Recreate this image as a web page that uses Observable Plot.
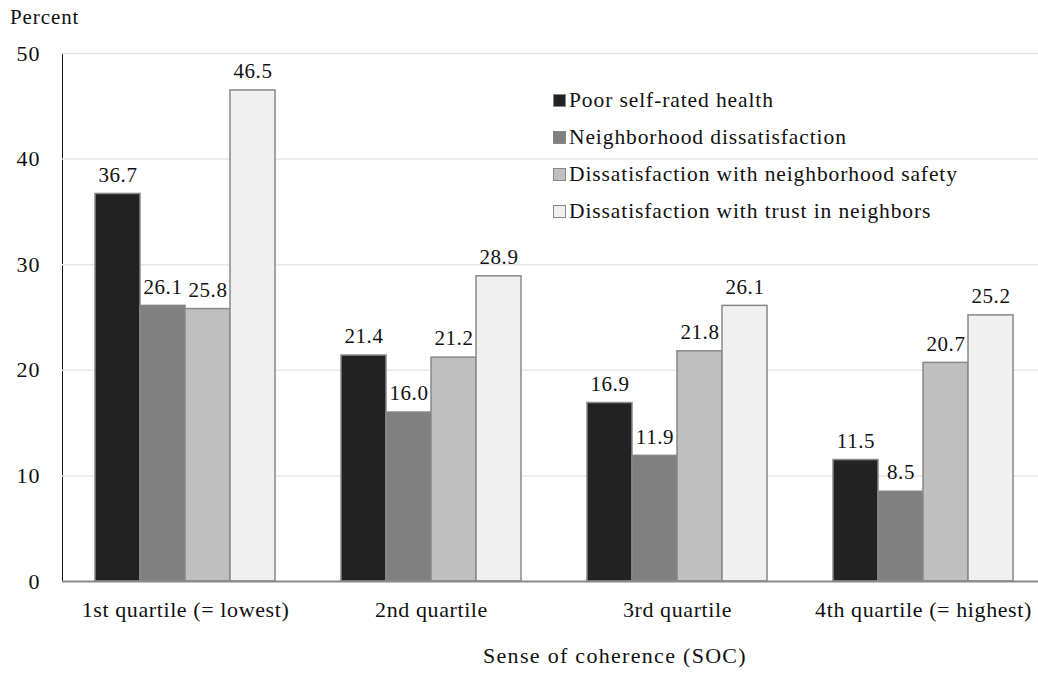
<!DOCTYPE html>
<html>
<head>
<meta charset="utf-8">
<script src="https://cdn.jsdelivr.net/npm/d3@7"></script>
<script src="https://cdn.jsdelivr.net/npm/@observablehq/plot@0.6"></script>
</head>
<body style="margin:0;background:#fff">
<div id="wrap" style="position:relative;width:1038px;height:676px;overflow:hidden;color:#111"></div>
<script>
const quartiles = ["1st quartile (= lowest)", "2nd quartile", "3rd quartile", "4th quartile (= highest)"];
const series = ["Poor self-rated health", "Neighborhood dissatisfaction", "Dissatisfaction with neighborhood safety", "Dissatisfaction with trust in neighbors"];
const poorHealth = [36.7, 21.4, 16.9, 11.5];
const neighDissat = [26.1, 16.0, 11.9, 8.5];
const safetyDissat = [25.8, 21.2, 21.8, 20.7];
const trustDissat = [46.5, 28.9, 26.1, 25.2];
const colors = ["#222222", "#808080", "#bfbfbf", "#f0f0f0"];
const yTicks = [0, 10, 20, 30, 40, 50];

const seriesValues = [poorHealth, neighDissat, safetyDissat, trustDissat];
const data = [];
quartiles.forEach((q, i) => series.forEach((s, j) => data.push({q, s, v: seriesValues[j][i]})));

const wrap = document.getElementById("wrap");
const fontName = "Liberation Serif";
const fontStack = `"${fontName}", monospace`;

function setFont(el, size, ls) {
  el.style.fontFamily = fontStack;
  el.setAttribute("font-family", fontStack);
  if (size) el.style.fontSize = size + "px";
  if (ls != null) el.style.letterSpacing = ls + "px";
}

const chart = Plot.plot({
  width: 1038,
  height: 676,
  marginTop: 53,
  marginBottom: 95,
  marginLeft: 62,
  marginRight: -8,
  style: {fontSize: "21px", color: "#111", background: "transparent", overflow: "hidden"},
  fx: {domain: quartiles, padding: 0, label: null, tickSize: 0, tickPadding: 20},
  x: {domain: series, paddingInner: 0, paddingOuter: 0.733, axis: null},
  y: {domain: [0, 50], label: null, tickSize: 0, tickPadding: 22, ticks: yTicks, line: true},
  color: {domain: series, range: colors},
  marks: [
    Plot.gridY(yTicks.filter(t => t > 0), {stroke: "#e6e6e6", strokeOpacity: 1, strokeWidth: 1.5}),
    Plot.barY(data, {fx: "q", x: "s", y: "v", fill: "s", stroke: "#888", strokeWidth: 1.5, inset: 0}),
    Plot.ruleY([0], {stroke: "#888", strokeWidth: 2}),
    Plot.text(data, {fx: "q", x: "s", y: "v", text: d => d.v.toFixed(1), dy: -19, fill: "#111"})
  ]
});
setFont(chart, 21);
wrap.appendChild(chart);

chart.querySelectorAll("g").forEach(g => { if (g.hasAttribute("font-family")) g.setAttribute("font-family", fontStack); });
chart.querySelectorAll("text").forEach(t => setFont(t, 21, 0.5));
chart.querySelectorAll('g[aria-label="y-axis tick label"] text').forEach(t => setFont(t, 22, 1));
chart.querySelectorAll('g[aria-label="fx-axis tick label"] text').forEach(t => setFont(t, 22, 0.6));
chart.querySelectorAll('g[aria-label="text"] text').forEach(t => setFont(t, 21, 0.6));

function absDiv(text, left, top, size, ls) {
  const d = document.createElement("div");
  d.style.position = "absolute";
  d.style.whiteSpace = "nowrap";
  d.style.left = left + "px";
  d.style.top = top + "px";
  d.textContent = text;
  setFont(d, size, ls);
  wrap.appendChild(d);
  return d;
}

// Axis titles
absDiv("Percent", 10, 5, 21, 0.9);
absDiv("Sense of coherence (SOC)", 483, 643, 22, 1.3);

// Legend
const legend = document.createElement("div");
legend.style.position = "absolute";
legend.style.left = "553px";
legend.style.top = "82px";
series.forEach((s, j) => {
  const row = document.createElement("div");
  row.style.display = "flex";
  row.style.alignItems = "center";
  row.style.height = "37px";
  const sw = document.createElement("div");
  sw.style.cssText = "width:13px;height:13px;border:1.5px solid #888;margin-right:3px;box-sizing:border-box;flex:none";
  sw.style.background = colors[j];
  const t = document.createElement("span");
  t.style.whiteSpace = "nowrap";
  t.textContent = s;
  setFont(t, 21.5, 0.9);
  row.appendChild(sw); row.appendChild(t);
  legend.appendChild(row);
});
wrap.appendChild(legend);
</script>
</body>
</html>
